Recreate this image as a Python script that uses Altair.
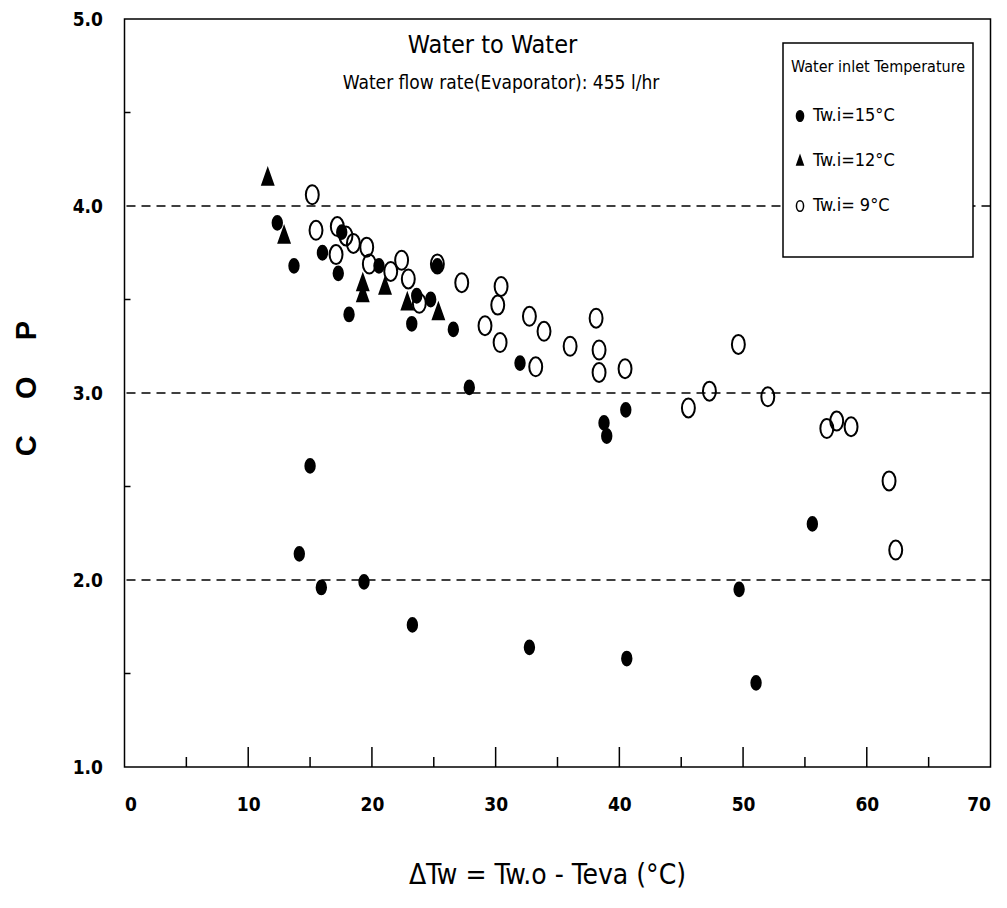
import altair as alt
import pandas as pd

# ---- data ----
x15 = [12.35, 16.0, 13.7, 17.56, 17.28, 20.57, 18.15, 23.62, 24.75, 23.22, 25.29, 26.58,
       31.97, 27.87, 38.76, 38.98, 40.52, 15.0, 14.13, 15.91, 19.36, 23.27, 32.73, 40.6,
       51.05, 49.68, 55.6]
y15 = [3.91, 3.75, 3.68, 3.86, 3.64, 3.68, 3.42, 3.52, 3.50, 3.37, 3.68, 3.34,
       3.16, 3.03, 2.84, 2.77, 2.91, 2.61, 2.14, 1.96, 1.99, 1.76, 1.64, 1.58,
       1.45, 1.95, 2.30]
x12 = [11.58, 12.9, 19.26, 19.26, 21.06, 22.86, 25.37]
y12 = [4.15, 3.84, 3.585, 3.526, 3.567, 3.483, 3.43]
x9 = [15.18, 15.48, 17.2, 17.9, 18.5, 17.1, 19.58, 19.79, 21.52, 22.4, 22.94, 23.83,
      25.29, 27.26, 29.14, 30.44, 30.17, 30.36, 32.73, 33.91, 33.24, 36.02, 38.12,
      38.36, 38.36, 40.46, 45.58, 47.28, 49.62, 52.0, 56.77, 57.57, 58.73, 61.8, 62.34]
y9 = [4.06, 3.87, 3.89, 3.84, 3.80, 3.74, 3.78, 3.69, 3.65, 3.71, 3.61, 3.48,
      3.69, 3.59, 3.36, 3.57, 3.47, 3.27, 3.41, 3.33, 3.14, 3.25, 3.40,
      3.23, 3.11, 3.13, 2.92, 3.01, 3.26, 2.98, 2.81, 2.85, 2.82, 2.53, 2.16]

series_labels = ["Tw.i=15°C", "Tw.i=12°C", "Tw.i= 9°C"]
x_tick_values = [0, 10, 20, 30, 40, 50, 60, 70]
x_minor_ticks = [5, 15, 25, 35, 45, 55, 65]
x_major_ticks = [10, 20, 30, 40, 50, 60]
y_tick_values = [1.0, 2.0, 3.0, 4.0, 5.0]
y_minor_ticks = [1.5, 2.5, 3.5, 4.5]
grid_values = [2.0, 3.0, 4.0]

title_text = "Water to Water"
subtitle_text = "Water flow rate(Evaporator): 455 l/hr"
legend_title = "Water inlet Temperature"
x_title = "ΔTw = Tw.o - Teva (°C)"
y_title = "C\u2003\u2005O\u2003\u2005P"

# ---- build tables ----
rows = []
for lab, xs_, ys_ in zip(series_labels, [x15, x12, x9], [y15, y12, y9]):
    for a, b in zip(xs_, ys_):
        rows.append({"x": a, "y": b, "series": lab})
pts = pd.DataFrame(rows)

TOP = 11
W, H = 866, 767 - 8 - TOP
NARROW = "DejaVu Sans Condensed, Liberation Sans Narrow, Liberation Sans, sans-serif"

xs = alt.Scale(domain=[0, 70], nice=False, zero=False)
ys = alt.Scale(domain=[1, 5], nice=False, zero=False)

xaxis = alt.Axis(
    values=x_tick_values, format="d", title=x_title, grid=False, ticks=False, domain=False,
    labelPadding=28, labelFontSize=19, labelFont=NARROW, labelFontWeight="bold",
    labelColor="black", titleFont=NARROW, titleFontSize=28, titleFontWeight="normal",
    titleColor="black", titleX=422.5, titleY=108, titleBaseline="middle", titleAnchor="middle")
yaxis = alt.Axis(
    values=y_tick_values, format=".1f", title=y_title, grid=False, ticks=False, domain=False,
    labelPadding=22, labelFontSize=19, labelFont=NARROW, labelFontWeight="bold",
    labelColor="black", titleFont="Liberation Sans, Arial, sans-serif", titleFontSize=29,
    titleFontWeight="bold", titleColor="black", titleX=-98.5, titleY=369,
    titleAngle=-90, titleBaseline="middle", titleAlign="center")

ellipse = "M0,-1A0.68,1 0 1,1 0,1A0.68,1 0 1,1 0,-1Z"
tri = "M0,-1L0.62,0.75L-0.62,0.75Z"

grid = alt.Chart(pd.DataFrame({"y": grid_values})).mark_rule(
    color="black", strokeWidth=1.4, strokeDash=[9, 6]
).encode(y=alt.Y("y:Q", scale=ys, axis=yaxis))

box = alt.Chart(pd.DataFrame({"d": [0]})).mark_rect(
    fill="white", stroke="black", strokeWidth=1.5
).encode(x=alt.value(658.5), x2=alt.value(848.5), y=alt.value(24), y2=alt.value(238))

xmaj = alt.Chart(pd.DataFrame({"x": x_major_ticks})).mark_rule(color="black", strokeWidth=1.5).encode(
    x=alt.X("x:Q", scale=xs, axis=xaxis), y=alt.value(H), y2=alt.value(H - 20))
xmin = alt.Chart(pd.DataFrame({"x": x_minor_ticks})).mark_rule(color="black", strokeWidth=1.5).encode(
    x=alt.X("x:Q", scale=xs, axis=xaxis), y=alt.value(H), y2=alt.value(H - 10))
ymin = alt.Chart(pd.DataFrame({"y": y_minor_ticks})).mark_rule(color="black", strokeWidth=1.5).encode(
    y=alt.Y("y:Q", scale=ys, axis=yaxis), x=alt.value(0), x2=alt.value(6))

shape_enc = alt.Shape("series:N", scale=alt.Scale(domain=series_labels, range=[ellipse, tri, ellipse]),
                      title=legend_title)
fill_enc = alt.Fill("series:N", scale=alt.Scale(domain=series_labels, range=["black", "black", "transparent"]),
                    title=legend_title)
stroke_enc = alt.Stroke("series:N", scale=alt.Scale(domain=series_labels, range=["black", "black", "black"]),
                        title=legend_title)


def series_layer(label, size):
    return alt.Chart(pts).transform_filter(alt.datum.series == label).mark_point(
        strokeWidth=2, opacity=1, size=size
    ).encode(
        x=alt.X("x:Q", scale=xs, axis=xaxis),
        y=alt.Y("y:Q", scale=ys, axis=yaxis),
        shape=shape_enc, fill=fill_enc, stroke=stroke_enc,
    )


p15 = series_layer(series_labels[0], 190)
p12 = series_layer(series_labels[1], 320)
p9 = series_layer(series_labels[2], 361)

title = alt.Chart(pd.DataFrame({"d": [0]})).mark_text(
    text=title_text, font=NARROW, fontSize=25, color="black", align="center", baseline="middle"
).encode(x=alt.value(368), y=alt.value(26))
subtitle = alt.Chart(pd.DataFrame({"d": [0]})).mark_text(
    text=subtitle_text, font=NARROW, fontSize=19, color="black", align="center", baseline="middle"
).encode(x=alt.value(376.5), y=alt.value(64))

chart = alt.layer(grid, box, xmaj, xmin, ymin, p15, p12, p9, title, subtitle).properties(
    width=W, height=H,
    autosize=alt.AutoSizeParams(type="none"),
    padding={"left": 116.5, "top": TOP, "right": 8, "bottom": 130},
).configure_view(stroke="black", strokeWidth=1.5).configure_legend(
    orient="none", legendX=666.5, legendY=40, padding=0,
    titleFont=NARROW, titleFontSize=16, titleFontWeight="normal", titleColor="black",
    titlePadding=32, labelFont=NARROW, labelFontSize=18, labelColor="black",
    rowPadding=27, symbolSize=110, symbolStrokeWidth=1.5, labelOffset=4, titleLimit=400,
    labelLimit=300,
)

chart.save("out.html", embed_options={"renderer": "svg", "actions": False})
